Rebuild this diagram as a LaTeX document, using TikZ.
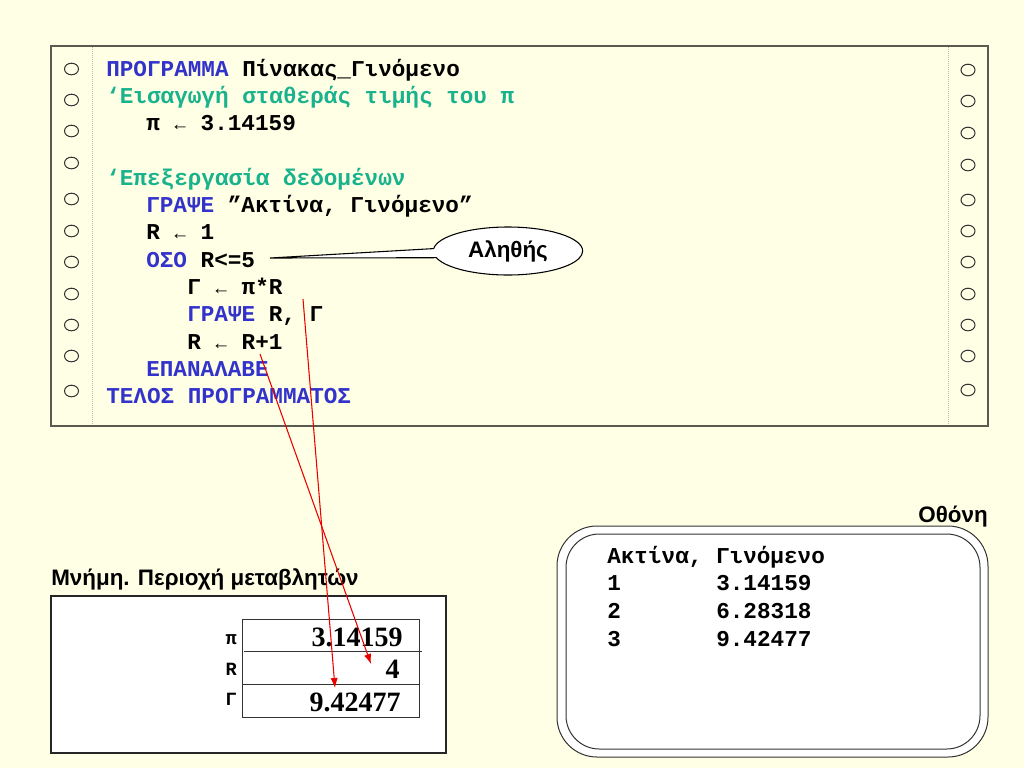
\documentclass[tikz,border=0pt]{standalone}
\usepackage{fontspec}
\setmainfont{Liberation Sans}
\newfontfamily\monofont{Liberation Mono}
\newfontfamily\seriffont{Liberation Serif}
\usetikzlibrary{shapes.callouts,arrows.meta}
\definecolor{bgcol}{RGB}{255,255,229}
\definecolor{kwcol}{RGB}{51,51,204}
\definecolor{cmcol}{RGB}{24,178,140}
\definecolor{framecol}{RGB}{90,90,80}
\definecolor{dotcol}{RGB}{190,190,170}
\definecolor{arrcol}{RGB}{235,0,0}
\newcommand{\kw}[1]{\textcolor{kwcol}{#1}}
\newcommand{\la}{\makebox[0.6em]{\fontsize{14}{14}\selectfont\mdseries ←}}
\tikzset{
  code/.style={anchor=base west, inner sep=0pt, font=\monofont\bfseries\fontsize{17}{20}\selectfont},
  cmt/.style={code, text=cmcol},
  hole/.style={draw=black!80, line width=0.75pt},
  lbl/.style={inner sep=0pt, font=\bfseries\fontsize{16.8}{19}\selectfont},
  varname/.style={anchor=east, inner sep=0pt, font=\monofont\bfseries\fontsize{14}{16}\selectfont},
  val/.style={anchor=base east, inner sep=0pt, font=\seriffont\bfseries\fontsize{21}{24}\selectfont},
  redarrow/.style={draw=arrcol, line width=0.8pt, -{Latex[length=7.5pt,width=5.5pt]}},
}
\begin{document}
\begin{tikzpicture}[x=0.75pt,y=-0.75pt]
\useasboundingbox (0,0) rectangle (1024,768);
\fill[bgcol] (0,0) rectangle (1024,768);
% code frame
\draw[framecol, line width=1.5pt, fill=bgcol] (51,46) rectangle (988,426);
\draw[dotcol, line width=0.6pt, dash pattern=on 0.75pt off 0.75pt] (92,47) -- (92,425);
\draw[dotcol, line width=0.6pt, dash pattern=on 0.75pt off 0.75pt] (948,47) -- (948,425);
\foreach \yy in {69,100,131,163,199,231,262,294,325,356,391}
  \draw[hole] (71.5,\yy) ellipse [x radius=7, y radius=5.8];
\foreach \yy in {70,101,133,165,200,231,262,294,325,356,390}
  \draw[hole] (968,\yy) ellipse [x radius=7, y radius=5.8];
% code lines
\node[code] (l0) at (106,76.0) {\kw{ΠΡΟΓΡΑΜΜΑ} Πίνακας\_Γινόμενο};
\node[cmt] (l1) at (106,103.3) {‘Εισαγωγή σταθεράς τιμής του π};
\node[code] (l2) at (146,130.6) {π \la{} 3.14159};
\node[cmt] (l4) at (106,185.2) {‘Επεξεργασία δεδομένων};
\node[code] (l5) at (146,212.5) {\kw{ΓΡΑΨΕ} ”Ακτίνα, Γινόμενο”};
\node[code] (l6) at (146,239.8) {R \la{} 1};
\node[code] (l7) at (146,267.1) {\kw{ΟΣΟ} R<=5};
\node[code] (l8) at (187,294.4) {Γ \la{} π*R};
\node[code] (l9) at (187,321.7) {\kw{ΓΡΑΨΕ} R, Γ};
\node[code] (l10) at (187,349.0) {R \la{} R+1};
\node[code] (l11) at (146,376.3) {\kw{ΕΠΑΝΑΛΑΒΕ}};
\node[code] (l12) at (106,403.6) {\kw{ΤΕΛΟΣ ΠΡΟΓΡΑΜΜΑΤΟΣ}};
% callout
\coordinate (ctip) at (270,258);
\node[ellipse callout, draw=black, line width=0.8pt, fill=white, lbl,
      minimum width=112pt, minimum height=36pt,
      callout absolute pointer={(ctip)}, callout pointer arc=22] (alithis) at (508,251) {Αληθής};
% memory
\node[lbl, anchor=base west] (memtitle) at (51,585) {Μνήμη. Περιοχή μεταβλητών};
\draw[black!85, line width=1pt, fill=white] (51,596) rectangle (446,753);
\draw[black!80, line width=0.75pt] (242,619) rectangle (419,717);
\draw[black!80, line width=0.75pt] (244,651) -- (422,651);
\draw[black!80, line width=0.75pt] (242,684) -- (419,684);
\node[varname] (vpi) at (237,640) {π};
\node[varname] (vr) at (237,669) {R};
\node[varname] (vg) at (237,699) {Γ};
\node[val] (cpi) at (403,646) {3.14159};
\node[val] (cr) at (400,678) {4};
\node[val] (cg) at (401,711) {9.42477};
% screen
\node[lbl, anchor=base east] (scrtitle) at (988,522) {Οθόνη};
\draw[black!80, line width=0.75pt, fill=white, rounded corners=30pt] (557,526) rectangle (988,757);
\draw[black!80, line width=0.75pt, rounded corners=25pt] (566,534) rectangle (980,749);
\node[code] (s0) at (607,563) {Ακτίνα, Γινόμενο};
\node[code] (s1a) at (607,590.7) {1};
\node[code] (s1b) at (716,590.7) {3.14159};
\node[code] (s2a) at (607,618.4) {2};
\node[code] (s2b) at (716,618.4) {6.28318};
\node[code] (s3a) at (607,646.1) {3};
\node[code] (s3b) at (716,646.1) {9.42477};
% red arrows
\coordinate (a1s) at (303,299);
\coordinate (a1e) at (335,688);
\coordinate (a2s) at (260,354);
\coordinate (a2e) at (371,664);
\draw[redarrow] (a1s) -- (a1e);
\draw[redarrow] (a2s) -- (a2e);
\end{tikzpicture}
\end{document}
